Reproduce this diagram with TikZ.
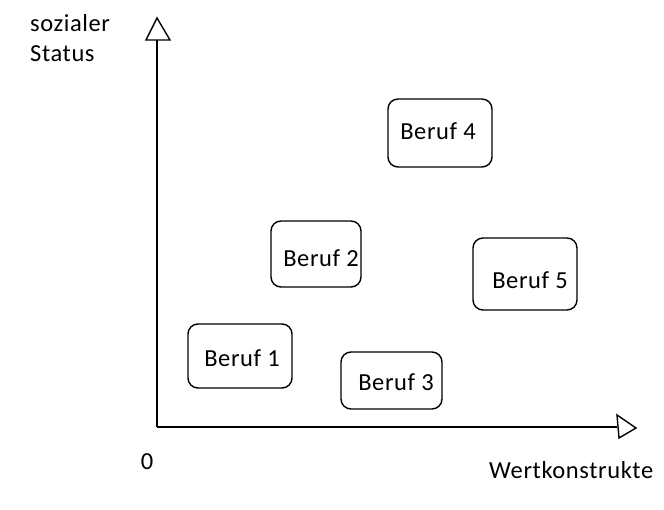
\documentclass[tikz,border=0pt]{standalone}
\usepackage{fontspec}
\setmainfont{Carlito}[LetterSpace=2.5]
\begin{document}
\begin{tikzpicture}[x=1pt,y=-1pt,
  lbl/.style={font=\fontsize{24.5}{30}\selectfont,inner sep=0pt},
  beruf/.style={draw,line width=1.4pt,rounded corners=10pt,inner sep=0pt},
  axis/.style={line width=1.4pt},
  tipv/.style={draw,line width=1.4pt,fill=white}]
\useasboundingbox (0,0) rectangle (664,510);
% axes
\coordinate (O) at (157,427);
\coordinate (ytop) at (157,40);
\coordinate (xend) at (617,427);
\draw[axis] (O) -- (ytop);
\draw[axis] (O) -- (xend);
\draw[tipv,line join=miter] (146,40) -- (157,18) -- (170,40) -- cycle;
\draw[tipv,line join=miter] (617,415) -- (636,428) -- (619,438) -- cycle;
% boxes
\node[beruf,minimum width=104pt,minimum height=68pt] (b4) at (440,133) {};
\node[lbl] (t4) at (438,131) {Beruf 4};
\node[beruf,minimum width=90pt,minimum height=66pt] (b2) at (316,254) {};
\node[lbl] (t2) at (321,258) {Beruf 2};
\node[beruf,minimum width=104pt,minimum height=72pt] (b5) at (525,274) {};
\node[lbl] (t5) at (530,280) {Beruf 5};
\node[beruf,minimum width=104pt,minimum height=64pt] (b1) at (240,356) {};
\node[lbl] (t1) at (242,358) {Beruf 1};
\node[beruf,minimum width=101pt,minimum height=57pt] (b3) at (391.5,380.5) {};
\node[lbl] (t3) at (396,382) {Beruf 3};
% axis labels
\node[lbl,anchor=west,align=left] (ylab) at (30,38) {sozialer\\Status};
\node[lbl] (zero) at (147,462) {0};
\node[lbl,anchor=west] (xlab) at (489,470) {Wertkonstrukte};
\end{tikzpicture}
\end{document}
